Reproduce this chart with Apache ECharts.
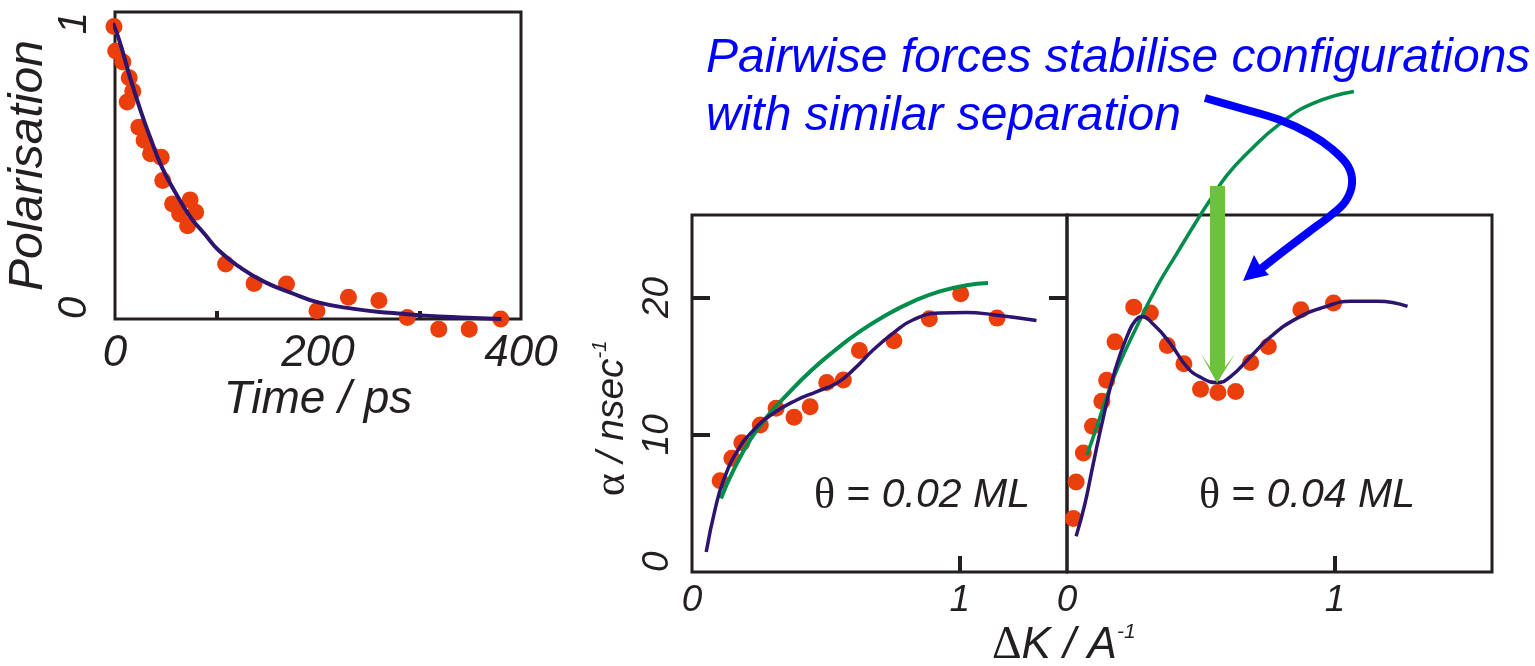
<!DOCTYPE html>
<html>
<head>
<meta charset="utf-8">
<script src="https://cdn.jsdelivr.net/npm/echarts@6/dist/echarts.min.js"></script>
<style>
  html, body { margin: 0; padding: 0; background: #fff; }
  #main { width: 1535px; height: 666px; }
</style>
</head>
<body>
<div id="main"></div>
<script>
// left panel: polarisation decay, dots + fit
var polTime  = [-1, 0.7, 7.7, 14, 17.5, 12, 23.5, 28.7, 35, 45.5, 47, 56.7, 63.7, 74, 79.5, 71.5, 109, 137, 169, 199, 230, 260, 288, 319, 349, 380];
var polValue = [0.953, 0.873, 0.837, 0.786, 0.742, 0.707, 0.625, 0.582, 0.538, 0.527, 0.451, 0.375, 0.342, 0.388, 0.348, 0.304, 0.179, 0.116, 0.114, 0.027, 0.071, 0.060, 0.005, -0.033, -0.033, 0.0];
var polFitTime  = [-2, 4.2, 14.7, 25.2, 35.7, 46.2, 60.2, 74.3, 88.3, 102.3, 123.3, 147.8, 172.3, 200.3, 235.4, 270.4, 305.4, 340.5, 380.7];
var polFitValue = [0.964, 0.908, 0.788, 0.679, 0.582, 0.495, 0.408, 0.332, 0.277, 0.223, 0.168, 0.120, 0.087, 0.054, 0.033, 0.020, 0.011, 0.005, 0.0];

// middle panel: theta = 0.02 ML
var lowK     = [0.105, 0.149, 0.186, 0.255, 0.314, 0.381, 0.441, 0.503, 0.565, 0.625, 0.754, 0.886, 1.003, 1.139];
var lowAlpha = [6.64, 8.28, 9.42, 10.71, 11.93, 11.27, 12.04, 13.80, 13.99, 16.13, 16.84, 18.45, 20.27, 18.49];
var lowFitK     = [0.053, 0.087, 0.118, 0.168, 0.230, 0.304, 0.391, 0.466, 0.540, 0.602, 0.677, 0.751, 0.826, 0.925, 1.025, 1.124, 1.286];
var lowFitAlpha = [1.46, 4.63, 6.69, 8.76, 10.34, 11.56, 12.53, 13.14, 13.75, 14.72, 16.18, 17.40, 18.37, 18.86, 18.90, 18.74, 18.32];
var lowPairK     = [0.108, 0.155, 0.217, 0.280, 0.354, 0.441, 0.528, 0.627, 0.727, 0.826, 0.925, 1.025, 1.105];
var lowPairAlpha = [5.36, 7.42, 9.61, 11.31, 12.90, 14.60, 16.06, 17.52, 18.74, 19.71, 20.44, 20.88, 21.05];

// right panel: theta = 0.04 ML
var highK     = [0.024, 0.034, 0.061, 0.095, 0.130, 0.148, 0.179, 0.249, 0.311, 0.374, 0.436, 0.498, 0.563, 0.629, 0.685, 0.751, 0.872, 0.994];
var highAlpha = [3.89, 6.56, 8.67, 10.62, 12.44, 13.97, 16.76, 19.29, 18.86, 16.50, 15.16, 13.31, 13.07, 13.14, 15.26, 16.42, 19.10, 19.59];
var highFitK     = [0.034, 0.067, 0.098, 0.136, 0.179, 0.229, 0.255, 0.279, 0.324, 0.385, 0.447, 0.498, 0.560, 0.610, 0.685, 0.760, 0.859, 0.959, 1.059, 1.158, 1.270];
var highFitAlpha = [2.60, 4.98, 7.90, 11.30, 14.70, 17.40, 18.30, 18.59, 18.00, 16.65, 14.94, 14.18, 13.80, 14.23, 15.69, 17.15, 18.49, 19.29, 19.71, 19.71, 19.34];
// green one runs out of the box on top
var highPairK     = [0.074, 0.111, 0.148, 0.192, 0.260, 0.335, 0.410, 0.491, 0.534, 0.597, 0.672, 0.796, 0.920, 1.070];
var highPairAlpha = [8.51, 10.57, 12.76, 15.00, 17.86, 20.77, 23.21, 25.80, 27.10, 28.90, 30.50, 32.68, 34.14, 34.99];

var polTicks = [0, 200, 400];
var kTicks = [0, 1];
var alphaTicks = [0, 10, 20];

function zip(xs, ys) {
  var out = [];
  for (var i = 0; i < xs.length; i++) {
    out.push([xs[i], ys[i]]);
  }
  return out;
}

var ink = '#231f20';
var dotColor = '#ea3f0c';
var fitColor = '#2d146e';
var pairColor = '#008c4b';
var sans = '"Liberation Sans", Arial, sans-serif';
var serif = '"Liberation Serif", "Times New Roman", serif';

var myChart = echarts.init(document.getElementById('main'));

function frame(left, top, width, height) {
  return {
    left: left, top: top, width: width, height: height,
    show: true, borderColor: ink, borderWidth: 3,
    backgroundColor: 'transparent', containLabel: false, outerBoundsMode: 'none'
  };
}

function tick(values, len) {
  return { show: true, inside: true, length: len, customValues: values, lineStyle: { color: ink, width: 4 } };
}

function label(values, size, extra) {
  var l = { show: true, customValues: values, fontSize: size, fontStyle: 'italic', fontFamily: sans, color: ink };
  for (var k in extra) l[k] = extra[k];
  return l;
}

function dots(xi, data) {
  return {
    type: 'scatter', xAxisIndex: xi, yAxisIndex: xi, data: data,
    symbolSize: 17, clip: false, itemStyle: { color: dotColor, opacity: 1 }
  };
}

function curve(xi, data, color, width) {
  return {
    type: 'line', xAxisIndex: xi, yAxisIndex: xi, data: data,
    smooth: true, showSymbol: false, clip: false, lineStyle: { color: color, width: width }
  };
}

// theta label, upright greek + italic number
function thetaText(value) {
  return {
    text: '{g|θ}{t| = }{i|' + value + ' ML}',
    rich: {
      g: { fontSize: 44, fontFamily: serif, fill: ink },
      t: { fontSize: 41, fontFamily: sans, fill: ink },
      i: { fontSize: 41, fontFamily: sans, fontStyle: 'italic', fill: ink }
    }
  };
}

var option = {
  animation: false,
  backgroundColor: '#fff',
  grid: [
    frame(115, 12, 406, 307),
    frame(692, 215, 375, 357),
    frame(1067, 215, 425, 357)
  ],
  xAxis: [
    {
      gridIndex: 0, type: 'value', min: 0, max: 400,
      axisLine: { show: false }, splitLine: { show: false },
      axisTick: tick([100, 200, 300], 8),
      axisLabel: label(polTicks, 44, { margin: 13 }),
      name: 'Time / ps', nameLocation: 'middle', nameGap: 47,
      nameTextStyle: { fontSize: 46, fontStyle: 'italic', fontFamily: sans, color: ink }
    },
    {
      gridIndex: 1, type: 'value', min: 0, max: 1.4,
      axisLine: { show: false }, splitLine: { show: false },
      axisTick: tick([1], 16),
      axisLabel: label(kTicks, 37, { margin: 10 })
    },
    {
      gridIndex: 2, type: 'value', min: 0, max: 1.585,
      axisLine: { show: false }, splitLine: { show: false },
      axisTick: tick([1], 16),
      axisLabel: label(kTicks, 37, { margin: 10 })
    }
  ],
  yAxis: [
    {
      gridIndex: 0, type: 'value', min: 0, max: 1,
      axisLine: { show: false }, splitLine: { show: false },
      axisTick: { show: false },
      axisLabel: label([0, 1], 40, { rotate: 90, margin: 20, alignMinLabel: 'left', alignMaxLabel: 'right' }),
      name: 'Polarisation', nameLocation: 'middle', nameRotate: 90, nameGap: 62,
      nameTextStyle: { fontSize: 48, fontStyle: 'italic', fontFamily: sans, color: ink }
    },
    {
      gridIndex: 1, type: 'value', min: 0, max: 26,
      axisLine: { show: false }, splitLine: { show: false },
      axisTick: tick([10, 20], 18),
      axisLabel: label(alphaTicks, 37, { rotate: 90, margin: 16, alignMinLabel: 'left' }),
      name: '{g|α}{t| / nsec}{s|-1}', nameLocation: 'middle', nameRotate: 90, nameGap: 58,
      nameTextStyle: {
        color: ink, padding: [0, 50, 0, 0],
        rich: {
          g: { fontSize: 44, fontFamily: serif, color: ink },
          t: { fontSize: 39, fontFamily: sans, fontStyle: 'italic', color: ink },
          s: { fontSize: 20, fontFamily: sans, fontStyle: 'italic', color: ink, verticalAlign: 'top', lineHeight: 44 }
        }
      }
    },
    {
      gridIndex: 2, type: 'value', min: 0, max: 26, position: 'right',
      axisLine: { show: false }, splitLine: { show: false },
      axisTick: tick([20], 18),
      axisLabel: { show: false }
    }
  ],
  series: [
    dots(0, zip(polTime, polValue)),
    dots(1, zip(lowK, lowAlpha)),
    dots(2, zip(highK, highAlpha)),
    curve(0, zip(polFitTime, polFitValue), fitColor, 4),
    curve(1, zip(lowPairK, lowPairAlpha), pairColor, 4),
    curve(1, zip(lowFitK, lowFitAlpha), fitColor, 3.5),
    curve(2, zip(highPairK, highPairAlpha), pairColor, 3.5),
    curve(2, zip(highFitK, highFitAlpha), fitColor, 3.5)
  ],
  graphic: [
    // panel labels
    { type: 'text', left: 814, top: 474, style: thetaText('0.02') },
    { type: 'text', left: 1199, top: 474, style: thetaText('0.04') },
    // shared x axis name
    {
      type: 'text', left: 992, top: 622,
      style: {
        text: '{g|Δ}{i|K / A}{s|-1}',
        rich: {
          g: { fontSize: 46, fontFamily: serif, fill: ink },
          i: { fontSize: 44, fontFamily: sans, fontStyle: 'italic', fill: ink },
          s: { fontSize: 21, fontFamily: sans, fontStyle: 'italic', fill: ink, verticalAlign: 'top', lineHeight: 48 }
        }
      }
    },
    // blue note
    {
      type: 'text', left: 706, top: 35,
      style: { text: 'Pairwise forces stabilise configurations', fontSize: 48, fontStyle: 'italic', fontFamily: sans, fill: '#0000ff' }
    },
    {
      type: 'text', left: 706, top: 93,
      style: { text: 'with similar separation', fontSize: 48, fontStyle: 'italic', fontFamily: sans, fill: '#0000ff' }
    },
    // green arrow down to the dip
    {
      type: 'polygon', z: 50,
      shape: { points: [[1210, 186], [1225, 186], [1225, 367], [1235, 354], [1217, 383], [1201, 354], [1210, 367]] },
      style: { fill: '#6cc23a' }
    },
    // blue curved arrow
    {
      type: 'polyline', z: 60,
      shape: {
        points: [[1205, 98], [1240, 108], [1280, 120], [1310, 134], [1332, 149], [1348, 166], [1352, 184], [1345, 202], [1330, 216], [1310, 231], [1285, 250], [1262, 268]],
        smooth: 0.35
      },
      style: { stroke: '#0000ff', lineWidth: 8, fill: null }
    },
    {
      type: 'polygon', z: 60,
      shape: { points: [[1243, 281], [1254, 255], [1259, 264], [1269, 275]] },
      style: { fill: '#0000ff' }
    }
  ]
};

myChart.setOption(option);

window.addEventListener('resize', function () {
  myChart.resize();
});
</script>
</body>
</html>
